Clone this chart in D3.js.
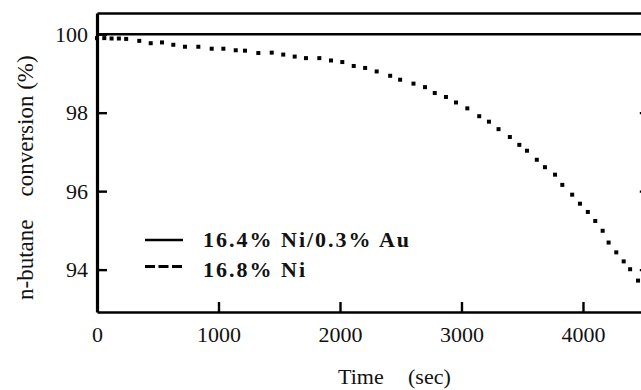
<!DOCTYPE html>
<html>
<head>
<meta charset="utf-8">
<script src="https://cdn.jsdelivr.net/npm/d3@7"></script>
<style>
  html, body { margin: 0; padding: 0; background: #fff; }
  svg { display: block; font-family: "Liberation Serif", "Times New Roman", serif; }
</style>
</head>
<body>
<svg id="chart" width="641" height="390"></svg>
<script>
// n-butane conversion over time for two catalysts
const niAuName = "16.4% Ni/0.3% Au";
const niAuTime = [0, 4500];
const niAuConv = [100, 100];

const niName = "16.8% Ni";
const niTime = [0, 60, 120, 180, 240, 348, 442, 535, 628, 724, 834, 944, 1040, 1142, 1218,
  1328, 1438, 1533, 1627, 1720, 1830, 1926, 2019, 2113, 2207, 2302, 2413, 2495, 2605,
  2700, 2780, 2872, 2955, 3048, 3146, 3226, 3305, 3398, 3476, 3539, 3620, 3687, 3770,
  3830, 3911, 3975, 4040, 4101, 4162, 4211, 4274, 4335, 4388, 4453];
const niConv = [99.90, 99.90, 99.89, 99.89, 99.88, 99.83, 99.77, 99.79, 99.73, 99.68, 99.68,
  99.63, 99.63, 99.59, 99.58, 99.52, 99.53, 99.48, 99.43, 99.39, 99.39, 99.33, 99.29,
  99.19, 99.14, 99.05, 98.94, 98.84, 98.74, 98.65, 98.50, 98.40, 98.26, 98.11, 97.91,
  97.77, 97.58, 97.38, 97.18, 97.03, 96.80, 96.61, 96.42, 96.16, 95.91, 95.68, 95.47,
  95.24, 94.99, 94.69, 94.44, 94.21, 94.01, 93.72];

const xTicks = [0, 1000, 2000, 3000, 4000];
const yTicks = [94, 96, 98, 100];
const xTitle = ["Time", "(sec)"];
const yTitle = "n-butane\u2002\u2002conversion (%)";

(function draw() {
  const svg = d3.select("#chart");

  const x = d3.scaleLinear().domain([0, 4550]).range([97, 649.8]);
  const y = d3.scaleLinear().domain([92.92, 100.54]).range([312, 13]);

  const fontSize = 22;

  // Frame: left, bottom, right axes with inward ticks, plus a top rule
  const leftAxis = svg.append("g").attr("transform", `translate(${x(0)},0)`)
    .call(d3.axisLeft(y).tickValues(yTicks).tickFormat(d3.format("d"))
      .tickSizeInner(-10).tickSizeOuter(0).tickPadding(9));

  const bottomAxis = svg.append("g").attr("transform", `translate(0,${y(92.92)})`)
    .call(d3.axisBottom(x).tickValues(xTicks).tickFormat(d3.format("d"))
      .tickSizeInner(-10).tickSizeOuter(0).tickPadding(14));

  const rightAxis = svg.append("g").attr("transform", `translate(${x(4550)},0)`)
    .call(d3.axisRight(y).tickValues([94, 96, 98]).tickFormat("")
      .tickSizeInner(-10).tickSizeOuter(0));

  const topAxis = svg.append("g").attr("transform", `translate(0,${y(100.54)})`)
    .call(d3.axisTop(x).tickValues([]).tickSizeOuter(0));

  [leftAxis, bottomAxis, rightAxis, topAxis].forEach(g => {
    g.select(".domain").attr("stroke", "#000").attr("stroke-width", 2.6);
    g.selectAll(".tick line").attr("stroke", "#000").attr("stroke-width", 2.4);
    g.selectAll(".tick text")
      .attr("fill", "#111")
      .style("font-family", "'Liberation Serif', serif")
      .style("font-size", fontSize + "px");
  });
  leftAxis.select(".domain").attr("stroke-width", 3.2);

  // Solid series
  const line = d3.line().x(d => x(d[0])).y(d => y(d[1]));
  svg.append("path")
    .datum(niAuTime.map((t, i) => [t, niAuConv[i]]))
    .attr("d", line)
    .attr("fill", "none")
    .attr("stroke", "#000")
    .attr("stroke-width", 2.4);

  // Dotted series drawn as small square points
  const dot = 4;
  svg.append("g").selectAll("rect")
    .data(niTime.map((t, i) => [t, niConv[i]]))
    .join("rect")
    .attr("x", d => x(d[0]) - dot / 2)
    .attr("y", d => y(d[1]) - dot / 2)
    .attr("width", dot)
    .attr("height", dot)
    .attr("fill", "#000");

  // Legend
  const legend = svg.append("g");
  const legendItems = [
    { name: niAuName, dash: null, y: 240, base: 247 },
    { name: niName, dash: "10,3.5", y: 266.5, base: 277 }
  ];
  legendItems.forEach(it => {
    legend.append("line")
      .attr("x1", 145).attr("x2", 183)
      .attr("y1", it.y).attr("y2", it.y)
      .attr("stroke", "#000")
      .attr("stroke-width", it.dash ? 3.2 : 2.6)
      .attr("stroke-dasharray", it.dash);
    legend.append("text")
      .attr("x", 203).attr("y", it.base)
      .attr("font-weight", "bold")
      .attr("font-size", fontSize)
      .attr("letter-spacing", 2)
      .attr("fill", "#111")
      .text(it.name);
  });

  // Axis titles
  svg.append("text").attr("x", 338).attr("y", 384)
    .attr("font-size", fontSize).attr("fill", "#111").text(xTitle[0]);
  svg.append("text").attr("x", 408).attr("y", 384)
    .attr("font-size", fontSize).attr("fill", "#111").text(xTitle[1]);

  svg.append("text")
    .attr("transform", "translate(33,300) rotate(-90)")
    .attr("font-size", 23)
    .attr("fill", "#111")
    .text(yTitle);
})();
</script>
</body>
</html>
